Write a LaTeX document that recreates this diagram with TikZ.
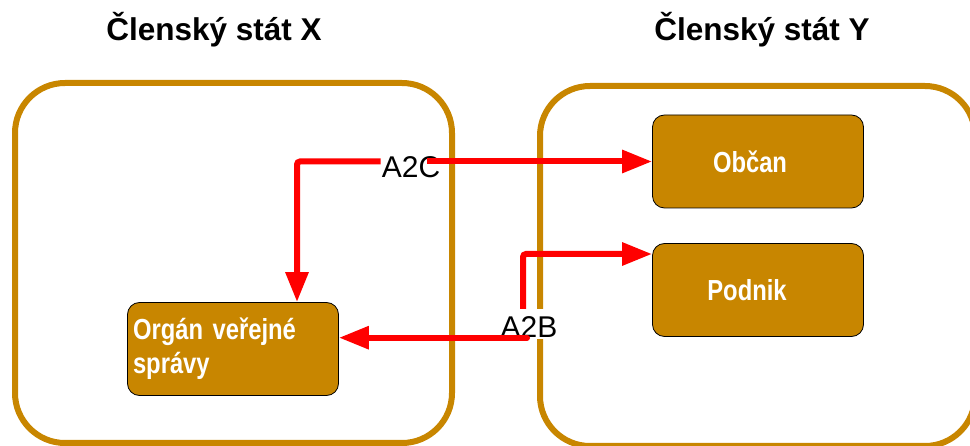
\documentclass[tikz,border=0pt]{standalone}
\usepackage{fontspec}
\setmainfont{Liberation Sans}
\newfontfamily\narrowfont[FakeStretch=0.82]{Liberation Sans}
\usetikzlibrary{arrows.meta}
\definecolor{ColorOkr}{HTML}{C88600}

\begin{document}
\begin{tikzpicture}[x=1pt, y=-1pt,
        frame/.style={draw=ColorOkr, line width=6pt, rounded corners=50pt},
        box/.style={draw=black, line width=0.8pt, fill=ColorOkr, rounded corners=12pt, inner sep=0pt,
            minimum width=211pt, minimum height=93pt, text=white,
            font=\narrowfont\bfseries\fontsize{29}{34}\selectfont},
        title/.style={anchor=base, font=\bfseries\fontsize{31.5}{38}\selectfont},
        lbl/.style={anchor=base, inner sep=1pt, font=\fontsize{30}{36}\selectfont},
        arrow/.style={draw=red, line width=6pt, rounded corners=3pt, -{Triangle[length=30pt,width=22pt]}}]
        \useasboundingbox (0,0) rectangle (970,446);

        % the two member states
        \draw[frame] (15,83) rectangle (452,443);
        \draw[frame] (540,86) rectangle (975,446);
        \node[title] (titleX) at (214,41) {Členský stát X};
        \node[title] (titleY) at (762,41) {Členský stát Y};

        \node[box, text width=200pt, align=left] (organ) at (233,349) {Orgán veřejné\\správy};
        \node[box] (obcan) at (758,161.5) {Občan\hspace*{16pt}};
        \node[box] (podnik) at (758,290) {Podnik\hspace*{22pt}};

        \node[lbl] (a2c) at (411,178) {A2C};
        \node[lbl, fill=white, text height=28pt, text depth=0pt] (a2b) at (529,338) {A2B};

        % A2C
        \draw[arrow] (a2c.west |- obcan.west) -| ([xshift=64pt]organ.north);
        \draw[arrow] ([xshift=-14pt]a2c.east |- obcan.west) -- (obcan.west);
        % A2B
        \draw[arrow] ([xshift=-6pt]a2b.north) |- ([yshift=36pt]podnik.west);
        \coordinate (a2bfoot) at ([shift={(-2pt,1.5pt)}]a2b.south);
        \draw[arrow, line cap=round] (a2bfoot) -- (a2bfoot -| organ.east);
    \end{tikzpicture}
\end{document}
